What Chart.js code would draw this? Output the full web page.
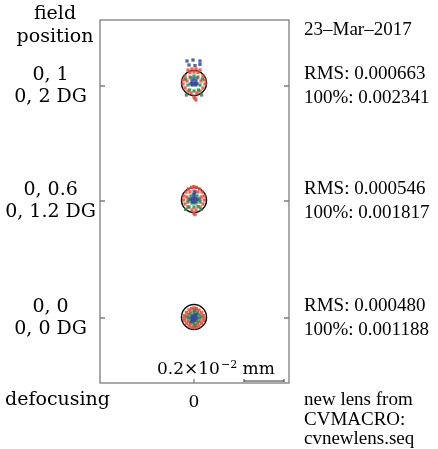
<!DOCTYPE html>
<html>
<head>
<meta charset="utf-8">
<script src="https://cdn.jsdelivr.net/npm/chart.js@4/dist/chart.umd.min.js"></script>
<style>
  html, body { margin: 0; background: #fff; }
  #wrap { width: 438px; height: 449px; }
</style>
</head>
<body>
<div id="wrap"><canvas id="spotChart" width="438" height="449"></canvas></div>
<script>
// field index 0 = on axis, 1 = 0.6 field, 2 = full field (units: micrometres)
const fieldNames = [['0, 0', '0, 0 DG'], ['0, 0.6', '0, 1.2 DG'], ['0, 1', '0, 2 DG']];
const rmsLabels = [
    ['RMS: 0.000480', '100%: 0.001188'],
    ['RMS: 0.000546', '100%: 0.001817'],
    ['RMS: 0.000663', '100%: 0.002341']
];
const fieldY = [3.25, 9.1, 14.85];
const airyOffsetY = [0.05, 0.05, 0.15];
const airyRadius = 0.625;
const scaleBar = [2.5, 4.5];
const xRange = [-4.7, 4.75];
const yRange = [0, 18.15];

const redSpots = [
    [[0, 0.5], [0.12, 0.47], [-0.12, 0.47], [0.25, 0.4], [-0.25, 0.4], [0.38, 0.28], [-0.38, 0.28], [0.47, 0.12], [-0.47, 0.12], [0.5, 0], [-0.5, 0],
     [0.47, -0.12], [-0.47, -0.12], [0.38, -0.28], [-0.38, -0.28], [0.25, -0.4], [-0.25, -0.4], [0.12, -0.47], [-0.12, -0.47], [0, -0.5],
     [0, 0.35], [0.3, 0.15], [-0.3, 0.15], [0.3, -0.15], [-0.3, -0.15], [0, -0.35], [0.18, 0.3], [-0.18, 0.3], [0.18, -0.3], [-0.18, -0.3]],
    [[0, 0.72], [-0.12, 0.68], [0.12, 0.68], [-0.28, 0.6], [0.28, 0.6], [-0.4, 0.45], [0.4, 0.45], [-0.5, 0.25], [0.5, 0.25], [-0.52, 0.05], [0.52, 0.05],
     [-0.45, -0.15], [0.45, -0.15], [-0.3, -0.3], [0.3, -0.3], [-0.1, -0.45], [0.1, -0.45], [0, -0.62], [0.05, -0.68],
     [-0.2, 0.45], [0.2, 0.45], [0, 0.5], [-0.35, 0.2], [0.35, 0.2], [-0.3, 0.05], [0.3, 0.05]],
    [[-0.3, 0.8], [-0.1, 0.85], [0.1, 0.85], [0.3, 0.8], [-0.2, 0.68], [0.2, 0.68], [0, 0.7],
     [-0.45, 0.5], [0.45, 0.5], [-0.55, 0.3], [0.55, 0.3], [-0.55, 0.1], [0.55, 0.1], [-0.45, -0.1], [0.45, -0.1], [-0.3, -0.25], [0.3, -0.25],
     [-0.15, -0.35], [0.15, -0.35], [0, -0.55], [0.05, -0.62], [0.1, -0.7], [-0.35, 0.25], [0.35, 0.25], [-0.2, 0.45], [0.2, 0.45]]
];
const greenSpots = [
    [[0, 0.28], [0.2, 0.2], [-0.2, 0.2], [0.28, 0], [-0.28, 0], [0.2, -0.2], [-0.2, -0.2], [0, -0.28], [0.1, 0.12], [-0.1, 0.12], [0.1, -0.12], [-0.1, -0.12],
     [0.35, 0.05], [-0.35, 0.05], [0.05, 0.38], [0.05, -0.38]],
    [[-0.42, -0.42], [0.35, -0.42], [-0.25, -0.3], [0.2, -0.28], [0, -0.3], [-0.3, -0.05], [0.3, -0.05], [-0.15, 0.25], [0.15, 0.25], [0, 0.35],
     [-0.25, 0.1], [0.25, 0.1], [0.1, -0.1], [-0.1, -0.1]],
    [[-0.38, -0.45], [0.38, -0.45], [-0.22, -0.2], [0.22, -0.2], [0, -0.25], [-0.3, 0.05], [0.3, 0.05], [-0.15, 0.4], [0.15, 0.4], [0, 0.5],
     [-0.1, 0.1], [0.1, 0.1], [-0.42, 0.35], [0.42, 0.35]]
];
const blueSpots = [
    [[0, 0], [0.08, 0.06], [-0.08, 0.06], [0.08, -0.06], [-0.08, -0.06], [0, 0.14], [0, -0.14], [0.15, 0], [-0.15, 0], [0.1, 0.18], [-0.1, -0.18]],
    [[0, 0.05], [0.08, 0.12], [-0.08, 0.12], [0.1, -0.02], [-0.1, -0.02], [0, 0.2], [0, -0.08], [0.16, 0.08], [-0.16, 0.08], [0, 0.32], [0.05, 0.45]],
    [[-0.35, 1.25], [-0.05, 1.3], [0.3, 1.25], [-0.25, 1.05], [0.05, 1.02], [0.3, 1.08], [0, 0.15], [0.1, 0.25], [-0.1, 0.25], [0.08, 0.05],
     [-0.08, 0.05], [0, 0.35], [0.15, 0.12], [-0.15, 0.12]]
];

const serif = '"DejaVu Serif", "Liberation Serif", serif';
const rightSerif = '"Liberation Serif", "DejaVu Serif", serif';
const boxColor = '#7d7d7d';
const leftSize = 19;
const rightSize = 19;

function toPoints(spots) {
    const pts = [];
    spots.forEach((list, i) => {
        list.forEach(p => pts.push({ x: p[0], y: fieldY[i] + p[1] }));
    });
    return pts;
}

const airyPoints = fieldY.map((y, i) => ({ x: 0, y: y + airyOffsetY[i] }));

function noVPad(scale) {
    scale.paddingTop = 0;
    scale.paddingBottom = 0;
}

const spotDecor = {
    id: 'spotDecor',
    afterDraw(chart) {
        const ctx = chart.ctx;
        const a = chart.chartArea;
        const xs = chart.scales.x;
        const ys = chart.scales.y;
        ctx.save();
        ctx.strokeStyle = boxColor;
        ctx.lineWidth = 1.3;
        ctx.strokeRect(a.left, a.top, a.right - a.left, a.bottom - a.top);

        // inward tick marks
        ctx.beginPath();
        fieldY.forEach(v => {
            const py = ys.getPixelForValue(v);
            ctx.moveTo(a.left, py); ctx.lineTo(a.left + 5, py);
            ctx.moveTo(a.right, py); ctx.lineTo(a.right - 5, py);
        });
        const x0 = xs.getPixelForValue(0);
        ctx.moveTo(x0, a.bottom); ctx.lineTo(x0, a.bottom - 4);
        ctx.stroke();

        // scale bar
        const b1 = xs.getPixelForValue(scaleBar[0]);
        const b2 = xs.getPixelForValue(scaleBar[1]);
        const by = a.bottom - 2;
        ctx.strokeStyle = '#333';
        ctx.lineWidth = 1;
        ctx.beginPath();
        ctx.moveTo(b1, by); ctx.lineTo(b2, by);
        ctx.moveTo(b1, by - 2); ctx.lineTo(b1, by + 1);
        ctx.moveTo(b2, by - 2); ctx.lineTo(b2, by + 1);
        ctx.stroke();

        ctx.fillStyle = '#000';
        ctx.textBaseline = 'alphabetic';
        ctx.textAlign = 'left';
        const big = '17px ' + serif;
        const small = '11px ' + serif;
        let tx = 157;
        const ty = a.bottom - 9;
        ctx.font = big;
        ctx.fillText('0.2×10', tx, ty);
        tx += ctx.measureText('0.2×10').width + 1;
        ctx.font = small;
        ctx.fillText('−2', tx, ty - 6);
        tx += ctx.measureText('−2').width;
        ctx.font = big;
        ctx.fillText(' mm', tx, ty);

        // surrounding labels
        ctx.textBaseline = 'middle';
        ctx.textAlign = 'center';
        ctx.font = leftSize + 'px ' + serif;
        ctx.fillText('field', 55, 14);
        ctx.fillText('position', 55, 37);
        ctx.textAlign = 'left';
        ctx.fillText('defocusing', 5, 400);
        ctx.font = rightSize + 'px ' + rightSerif;
        ctx.fillText('23–Mar–2017', 304, 30);
        ctx.fillText('new lens from', 304, 400);
        ctx.fillText('CVMACRO:', 304, 420);
        ctx.fillText('cvnewlens.seq', 304, 439);
        ctx.restore();
    }
};

new Chart(document.getElementById('spotChart'), {
    type: 'scatter',
    data: {
        datasets: [
            {
                label: 'Airy disk',
                data: airyPoints,
                order: 4,
                pointStyle: 'circle',
                backgroundColor: 'rgba(0,0,0,0)',
                borderColor: '#111',
                borderWidth: 1.5,
                pointRadius: function (c) {
                    const s = c.chart.scales.x;
                    return s ? Math.abs(s.getPixelForValue(airyRadius) - s.getPixelForValue(0)) : 12;
                }
            },
            {
                label: 'red',
                data: toPoints(redSpots),
                order: 3,
                pointStyle: 'rect',
                pointRadius: 2.3,
                borderWidth: 0,
                backgroundColor: 'rgba(236, 72, 56, 0.85)'
            },
            {
                label: 'green',
                data: toPoints(greenSpots),
                order: 2,
                pointStyle: 'rect',
                pointRadius: 2.3,
                borderWidth: 0,
                backgroundColor: 'rgba(40, 140, 72, 0.85)'
            },
            {
                label: 'blue',
                data: toPoints(blueSpots),
                order: 1,
                pointStyle: 'rect',
                pointRadius: 2.3,
                borderWidth: 0,
                backgroundColor: 'rgba(50, 70, 160, 0.85)'
            }
        ]
    },
    options: {
        responsive: false,
        animation: false,
        layout: { padding: { top: 20, left: 0, right: 0, bottom: 0 } },
        plugins: {
            legend: { display: false },
            tooltip: { enabled: false }
        },
        scales: {
            x: {
                type: 'linear',
                position: 'bottom',
                min: xRange[0],
                max: xRange[1],
                grid: { display: false, drawTicks: false },
                border: { display: false },
                afterBuildTicks: function (scale) { scale.ticks = [{ value: 0 }]; },
                afterFit: function (scale) {
                    scale.height = 66;
                    scale.paddingLeft = 0;
                    scale.paddingRight = 0;
                },
                ticks: {
                    padding: 9,
                    color: '#000',
                    font: { family: serif, size: 17 },
                    callback: () => '0'
                }
            },
            y: {
                type: 'linear',
                position: 'left',
                min: yRange[0],
                max: yRange[1],
                grid: { display: false, drawTicks: false },
                border: { display: false },
                afterBuildTicks: function (scale) { scale.ticks = fieldY.map(v => ({ value: v })); },
                afterFit: function (scale) { scale.width = 100; noVPad(scale); },
                ticks: {
                    padding: 4,
                    crossAlign: 'center',
                    color: '#000',
                    font: { family: serif, size: leftSize, lineHeight: 1.16 },
                    callback: (v, i) => fieldNames[i]
                }
            },
            y2: {
                type: 'linear',
                position: 'right',
                min: yRange[0],
                max: yRange[1],
                grid: { display: false, drawTicks: false },
                border: { display: false },
                afterBuildTicks: function (scale) { scale.ticks = fieldY.map(v => ({ value: v })); },
                afterFit: function (scale) { scale.width = 149; noVPad(scale); },
                ticks: {
                    padding: 15,
                    color: '#000',
                    font: { family: rightSerif, size: rightSize, lineHeight: 1.26 },
                    callback: (v, i) => rmsLabels[i]
                }
            }
        }
    },
    plugins: [spotDecor]
});
</script>
</body>
</html>
